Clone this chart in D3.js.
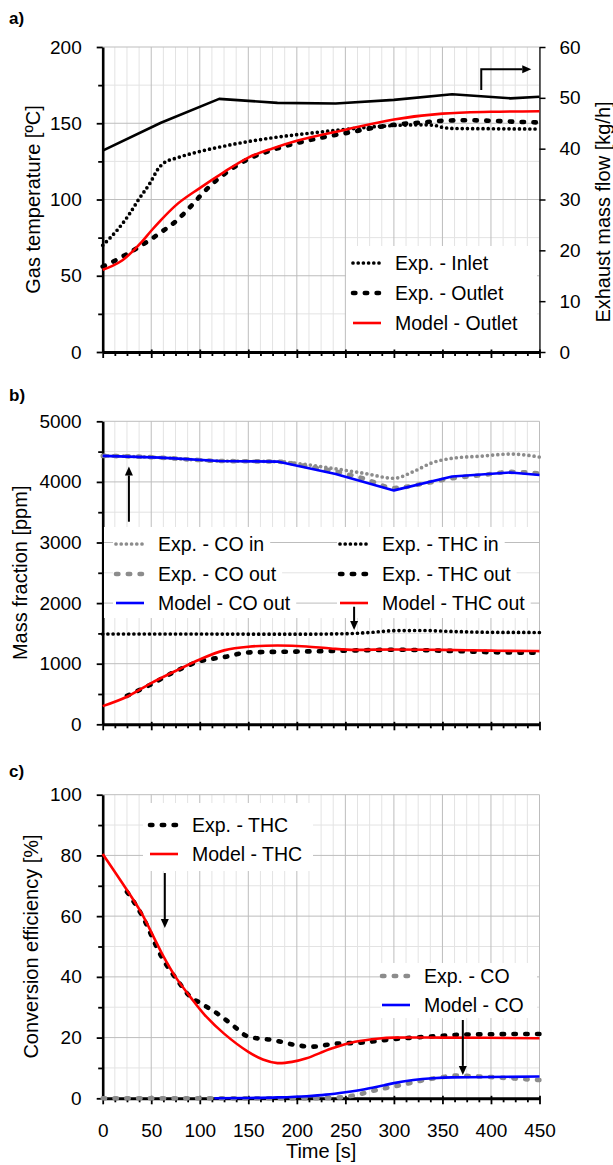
<!DOCTYPE html>
<html>
<head>
<meta charset="utf-8">
<script src="https://cdn.jsdelivr.net/npm/d3@7"></script>
<style>
  html, body { margin: 0; padding: 0; background: #fff; }
  svg { display: block; font-family: "Liberation Sans", Arial, sans-serif; }
</style>
</head>
<body>
<svg id="chart" width="613" height="1165"></svg>
<script>
// ---------- data ----------
const timeTicks = [0, 50, 100, 150, 200, 250, 300, 350, 400, 450];

// a) gas temperature [°C] and exhaust mass flow [kg/h]
const tempTicks = [0, 50, 100, 150, 200];
const flowTicks = [0, 10, 20, 30, 40, 50, 60];
const flowTime = [0, 60, 120, 180, 240, 300, 360, 420, 450];
const flowMass = [39.6, 45.1, 49.8, 49.0, 48.9, 49.6, 50.7, 49.9, 50.2];
const inletTime = [0, 15, 27, 37, 49, 57, 63, 75, 100, 125, 150, 175, 200, 225, 250, 275, 300, 325, 340, 350, 360, 400, 450];
const inletTemp = [70, 80, 90, 100, 111, 120, 124, 127, 131.5, 135, 138, 140.5, 142.5, 144.3, 146, 147.5, 148.5, 149, 148.8, 147.3, 146.6, 146.4, 146.2];
const outletExpTime = [0, 10, 20, 30, 40, 50, 60, 75, 90, 100, 110, 125, 150, 175, 200, 225, 250, 275, 300, 325, 350, 375, 400, 425, 450];
const outletExpTemp = [56, 59, 62.5, 66, 70, 74, 78.5, 85.5, 95, 102, 108.5, 116.5, 126.5, 132.5, 137, 140.5, 143.5, 146.5, 149, 150.3, 151.6, 152, 151.6, 151, 150.5];
const outletModelTime = [0, 10, 20, 30, 40, 50, 60, 75, 100, 125, 150, 175, 200, 250, 300, 350, 400, 450];
const outletModelTemp = [54, 56.5, 60, 65.5, 72, 79.5, 86.5, 96, 107.5, 118, 127.5, 133.5, 138.5, 145.8, 152.5, 156.3, 157.5, 157.9];

// b) mass fraction [ppm]
const ppmTicks = [0, 1000, 2000, 3000, 4000, 5000];
const coInTime = [0, 30, 60, 90, 120, 150, 180, 210, 240, 270, 300, 320, 340, 360, 390, 420, 450];
const coInVal = [4430, 4420, 4400, 4370, 4345, 4340, 4335, 4285, 4215, 4140, 4060, 4170, 4320, 4390, 4425, 4460, 4410];
const coOutExpTime = [0, 30, 60, 90, 120, 150, 180, 210, 240, 270, 300, 330, 360, 390, 420, 450];
const coOutExpVal = [4430, 4420, 4400, 4370, 4345, 4340, 4335, 4260, 4170, 4050, 3900, 3970, 4060, 4110, 4165, 4140];
const coOutModelTime = [0, 60, 120, 180, 240, 300, 360, 420, 450];
const coOutModelVal = [4430, 4400, 4345, 4335, 4130, 3860, 4090, 4155, 4115];
const thcInTime = [0, 50, 100, 150, 200, 250, 275, 300, 330, 360, 400, 450];
const thcInVal = [1490, 1490, 1490, 1488, 1487, 1495, 1515, 1545, 1548, 1532, 1518, 1515];
const thcOutExpTime = [25, 50, 75, 100, 125, 150, 175, 200, 250, 300, 350, 400, 450];
const thcOutExpVal = [470, 660, 875, 1040, 1110, 1185, 1195, 1200, 1215, 1230, 1215, 1190, 1180];
const thcOutModelTime = [0, 25, 50, 75, 100, 125, 150, 180, 210, 235, 260, 300, 350, 400, 450];
const thcOutModelVal = [300, 455, 680, 880, 1070, 1220, 1280, 1300, 1285, 1250, 1228, 1235, 1228, 1215, 1208];

// c) conversion efficiency [%]
const effTicks = [0, 20, 40, 60, 80, 100];
const thcEffExpTime = [25, 40, 60, 80, 90, 100, 120, 135, 150, 175, 200, 215, 240, 265, 300, 335, 375, 450];
const thcEffExpVal = [68, 60.5, 47, 37.5, 33.5, 31.5, 27.5, 23.8, 20.3, 19.2, 17.5, 17, 18, 18.3, 19.5, 20.3, 21, 21.2];
const thcEffModelTime = [0, 20, 40, 55, 63, 75, 90, 105, 125, 150, 165, 180, 195, 210, 235, 260, 285, 300, 350, 450];
const thcEffModelVal = [80.5, 71, 61, 51.5, 46.5, 40, 33.5, 27.5, 21.3, 15.3, 12.8, 11.6, 12, 13.2, 16.3, 18.6, 19.7, 20, 20, 19.8];
const coEffExpTime = [0, 50, 100, 150, 200, 240, 260, 280, 300, 325, 350, 365, 380, 400, 425, 450];
const coEffExpVal = [0, 0, 0, 0, 0, 0.2, 1, 2.6, 3.9, 5.6, 7, 7.5, 7.3, 7, 6.5, 6];
const coEffModelTime = [115, 150, 180, 210, 230, 250, 270, 290, 300, 320, 340, 360, 400, 450];
const coEffModelVal = [0, 0.1, 0.3, 0.7, 1.2, 2, 3, 4.3, 5, 6, 6.6, 6.9, 7, 7.2];

// ---------- styles ----------
const STYLES = {
  solidBlack: { stroke: "#000", width: 2.6 },
  solidRed:   { stroke: "#ff0000", width: 2.6 },
  solidBlue:  { stroke: "#0000ff", width: 2.6 },
  dotBlack:   { stroke: "#000", width: 3.7, dash: "0,5.2", cap: "round" },
  dotGray:    { stroke: "#8c8c8c", width: 3.7, dash: "0,5.2", cap: "round" },
  dashBlack:  { stroke: "#000", width: 4.6, dash: "2.4,9.4", cap: "round" },
  dashGray:   { stroke: "#8c8c8c", width: 4.6, dash: "2.4,9.4", cap: "round" }
};
const FONT_TICK = 19, FONT_LEG = 19.5, FONT_TITLE = 20;
const MAJOR_GRID = "#bdbdbd", MINOR_GRID = "#e3e3e3";

const svg = d3.select("#chart");
const x = d3.scaleLinear().domain([0, 450]).range([102.7, 539.5]);

function applyStyle(sel, st) {
  sel.attr("fill", "none").attr("stroke", st.stroke).attr("stroke-width", st.width)
     .attr("stroke-linecap", st.cap || "butt").attr("stroke-linejoin", "round");
  if (st.dash) sel.attr("stroke-dasharray", st.dash);
}

function grid(g, y, yMax, major, minor) {
  const [y0, y1] = y.range();
  const xs = d3.range(12.5, 450.01, 12.5);
  const ys = d3.range(minor, yMax + 0.001, minor);
  // minor first, majors on top
  g.selectAll(null).data(xs.filter(t => t % 50 !== 0)).join("line")
    .attr("x1", d => x(d)).attr("x2", d => x(d)).attr("y1", y0).attr("y2", y1)
    .attr("stroke", MINOR_GRID).attr("stroke-width", 1);
  g.selectAll(null).data(ys.filter(v => v % major !== 0)).join("line")
    .attr("x1", x(0)).attr("x2", x(450)).attr("y1", d => y(d)).attr("y2", d => y(d))
    .attr("stroke", MINOR_GRID).attr("stroke-width", 1);
  g.selectAll(null).data(xs.filter(t => t % 50 === 0)).join("line")
    .attr("x1", d => x(d)).attr("x2", d => x(d)).attr("y1", y0).attr("y2", y1)
    .attr("stroke", MAJOR_GRID).attr("stroke-width", 1);
  g.selectAll(null).data(ys.filter(v => v % major === 0)).join("line")
    .attr("x1", x(0)).attr("x2", x(450)).attr("y1", d => y(d)).attr("y2", d => y(d))
    .attr("stroke", MAJOR_GRID).attr("stroke-width", 1);
}

function hGridSegments(g, y, values, x1, x2) {
  values.forEach(v => {
    g.append("line").attr("x1", x1).attr("x2", x2).attr("y1", y(v)).attr("y2", y(v))
      .attr("stroke", v % 1000 === 0 ? MAJOR_GRID : MINOR_GRID).attr("stroke-width", 1);
  });
}

function styleText(a) {
  a.selectAll("text").attr("font-size", FONT_TICK).attr("fill", "#000")
    .attr("font-family", "Liberation Sans, Arial, sans-serif");
}

function axes(g, y, majors, minors, showTimeLabels) {
  const bottom = y.range()[0];
  // left axis: minor ticks, then labelled major ticks
  g.append("g").attr("transform", `translate(${x(0)},0)`)
    .call(d3.axisLeft(y).tickValues(minors).tickSize(4.5).tickFormat(""))
    .call(a => a.select(".domain").remove())
    .call(a => a.selectAll("line").attr("stroke", "#000").attr("stroke-width", 1.8));
  g.append("g").attr("transform", `translate(${x(0)},0)`)
    .call(d3.axisLeft(y).tickValues(majors).tickSize(6).tickSizeOuter(0).tickPadding(15).tickFormat(d3.format("d")))
    .call(a => a.select(".domain").attr("stroke", "#000").attr("stroke-width", 2.6))
    .call(a => a.selectAll("line").attr("stroke", "#000").attr("stroke-width", 1.8))
    .call(styleText);
  // bottom axis
  const minorT = d3.range(12.5, 450, 12.5).filter(t => t % 50 !== 0);
  g.append("g").attr("transform", `translate(0,${bottom})`)
    .call(d3.axisBottom(x).tickValues(minorT).tickSize(4).tickFormat(""))
    .call(a => a.select(".domain").remove())
    .call(a => a.selectAll("line").attr("stroke", "#000").attr("stroke-width", 1.8));
  g.append("g").attr("transform", `translate(0,${bottom})`)
    .call(d3.axisBottom(x).tickValues(timeTicks).tickSize(6).tickSizeOuter(0).tickPadding(19)
      .tickFormat(showTimeLabels ? d3.format("d") : ""))
    .call(a => a.select(".domain").attr("stroke", "#000").attr("stroke-width", 3))
    .call(a => a.selectAll("line").attr("y1", -2.5).attr("stroke", "#000").attr("stroke-width", 1.8))
    .call(styleText);
}

function series(g, y, times, vals, st, curve) {
  const pts = times.map((t, i) => [t, vals[i]]);
  const line = d3.line().x(d => x(d[0])).y(d => y(d[1])).curve(curve || d3.curveMonotoneX);
  g.append("path").datum(pts).attr("d", line).call(applyStyle, st);
}

function legendEntry(g, lx, ly, st, label, bg) {
  const e = g.append("g");
  const r = bg ? e.append("rect").attr("fill", "#fff") : null;
  e.append("line").attr("x1", lx).attr("x2", lx + 28).attr("y1", ly).attr("y2", ly).call(applyStyle, st);
  const t = e.append("text").attr("x", lx + 42).attr("y", ly).attr("dy", "0.35em")
    .attr("font-size", FONT_LEG).attr("fill", "#000").text(label);
  if (r) {
    const w = t.node().getComputedTextLength();
    r.attr("x", lx - 3).attr("y", ly - 13).attr("width", 42 + w + 9).attr("height", 26);
  }
}

function whiteBox(g, x0, y0, x1, y1) {
  g.append("rect").attr("x", x0).attr("y", y0).attr("width", x1 - x0).attr("height", y1 - y0).attr("fill", "#fff");
}

function arrow(g, pts) {
  // pts: pixel points along the arrow, the last one is the tip
  const n = pts.length;
  const [ax, ay] = pts[n - 2], [bx, by] = pts[n - 1];
  const ang = Math.atan2(by - ay, bx - ax);
  const L = 9, Wd = 4;
  const base = [bx - L * Math.cos(ang), by - L * Math.sin(ang)];
  const shaft = pts.slice(0, n - 1).concat([base]);
  g.append("path").attr("d", d3.line()(shaft)).attr("fill", "none").attr("stroke", "#000").attr("stroke-width", 2);
  const px = -Math.sin(ang), py = Math.cos(ang);
  g.append("path").attr("d", d3.line()([[bx, by], [base[0] + px * Wd, base[1] + py * Wd], [base[0] - px * Wd, base[1] - py * Wd]]) + "Z")
    .attr("fill", "#000");
}

function yTitle(cx, cy, text) {
  svg.append("text").attr("transform", `translate(${cx + 7},${cy}) rotate(-90)`)
    .attr("text-anchor", "middle").attr("font-size", FONT_TITLE).attr("fill", "#000").text(text);
}

function panelLabel(py, text) {
  svg.append("text").attr("x", 9).attr("y", py).attr("font-size", 17).attr("font-weight", "bold")
    .attr("fill", "#000").text(text);
}

// ---------- panel a ----------
{
  const y = d3.scaleLinear().domain([0, 200]).range([352, 47]);
  const yR = d3.scaleLinear().domain([0, 60]).range([352, 47]);
  const g = svg.append("g");
  grid(g, y, 200, 50, 25);
  whiteBox(g, 346, 246, 537, 352);
  axes(g, y, tempTicks, d3.range(25, 200, 50), false);
  g.append("g").attr("transform", `translate(${x(450)},0)`)
    .call(d3.axisRight(yR).tickValues(flowTicks).tickSize(6).tickSizeOuter(0).tickPadding(14))
    .call(a => a.select(".domain").attr("stroke", "#000").attr("stroke-width", 1.2))
    .call(a => a.selectAll("line").attr("stroke", "#000").attr("stroke-width", 1.5))
    .call(styleText);

  series(g, yR, flowTime, flowMass, STYLES.solidBlack, d3.curveLinear);
  series(g, y, inletTime, inletTemp, STYLES.dotBlack);
  series(g, y, outletExpTime, outletExpTemp, STYLES.dashBlack);
  series(g, y, outletModelTime, outletModelTemp, STYLES.solidRed);

  legendEntry(g, 353, 263, STYLES.dotBlack, "Exp. - Inlet");
  legendEntry(g, 353, 293, STYLES.dashBlack, "Exp. - Outlet");
  legendEntry(g, 353, 323, STYLES.solidRed, "Model - Outlet");

  arrow(g, [[x(390), y(171.8)], [x(390), y(185.4)], [x(441.5), y(185.4)]]);

  panelLabel(24, "a)");
  yTitle(33, 199.5, "Gas temperature [ºC]");
  yTitle(603, 212, "Exhaust mass flow [kg/h]");
}

// ---------- panel b ----------
{
  const y = d3.scaleLinear().domain([0, 5000]).range([724.3, 421.3]);
  const g = svg.append("g");
  grid(g, y, 5000, 1000, 500);
  axes(g, y, ppmTicks, d3.range(500, 5000, 1000), false);

  series(g, y, coInTime, coInVal, STYLES.dotGray);
  series(g, y, coOutExpTime, coOutExpVal, STYLES.dashGray);
  series(g, y, coOutModelTime, coOutModelVal, STYLES.solidBlue, d3.curveLinear);
  series(g, y, thcInTime, thcInVal, STYLES.dotBlack);
  series(g, y, thcOutExpTime, thcOutExpVal, STYLES.dashBlack);
  series(g, y, thcOutModelTime, thcOutModelVal, STYLES.solidRed);

  // legend block: vertical grid hidden, horizontal grid shows between entries
  whiteBox(g, 104, 527, 538, 618);
  hGridSegments(g, y, [3000, 2500, 2000], 104, 538);
  legendEntry(g, 116, 544, STYLES.dotGray, "Exp. - CO in", true);
  legendEntry(g, 116, 574, STYLES.dashGray, "Exp. - CO out", true);
  legendEntry(g, 116, 603, STYLES.solidBlue, "Model - CO out", true);
  legendEntry(g, 340, 544, STYLES.dotBlack, "Exp. - THC in", true);
  legendEntry(g, 340, 574, STYLES.dashBlack, "Exp. - THC out", true);
  legendEntry(g, 340, 603, STYLES.solidRed, "Model - THC out", true);

  arrow(g, [[x(27), y(3343)], [x(27), y(4255)]]);
  arrow(g, [[x(259), y(1940)], [x(259), y(1556)]]);

  panelLabel(401, "b)");
  yTitle(20, 572.8, "Mass fraction [ppm]");
}

// ---------- panel c ----------
{
  const y = d3.scaleLinear().domain([0, 100]).range([1098.3, 794.7]);
  const g = svg.append("g");
  grid(g, y, 100, 20, 10);
  axes(g, y, effTicks, d3.range(10, 100, 20), true);

  series(g, y, coEffExpTime, coEffExpVal, STYLES.dashGray);
  series(g, y, coEffModelTime, coEffModelVal, STYLES.solidBlue);
  series(g, y, thcEffExpTime, thcEffExpVal, STYLES.dashBlack);
  series(g, y, thcEffModelTime, thcEffModelVal, STYLES.solidRed, d3.curveCatmullRom.alpha(0.5));

  whiteBox(g, 143, 803, 313, 871);
  legendEntry(g, 150, 825, STYLES.dashBlack, "Exp. - THC");
  legendEntry(g, 150, 854, STYLES.solidRed, "Model - THC");
  whiteBox(g, 381, 963, 537, 1018);
  legendEntry(g, 382, 976, STYLES.dashGray, "Exp. - CO");
  legendEntry(g, 382, 1005, STYLES.solidBlue, "Model - CO");

  arrow(g, [[x(64), y(74.2)], [x(64), y(56.1)]]);
  arrow(g, [[x(371), y(25.8)], [x(371), y(7.7)]]);

  panelLabel(777, "c)");
  yTitle(31, 946.5, "Conversion efficiency [%]");
  svg.append("text").attr("x", (x(0) + x(450)) / 2).attr("y", 1158).attr("text-anchor", "middle")
    .attr("font-size", FONT_TITLE).attr("fill", "#000").text("Time [s]");
}
</script>
</body>
</html>
